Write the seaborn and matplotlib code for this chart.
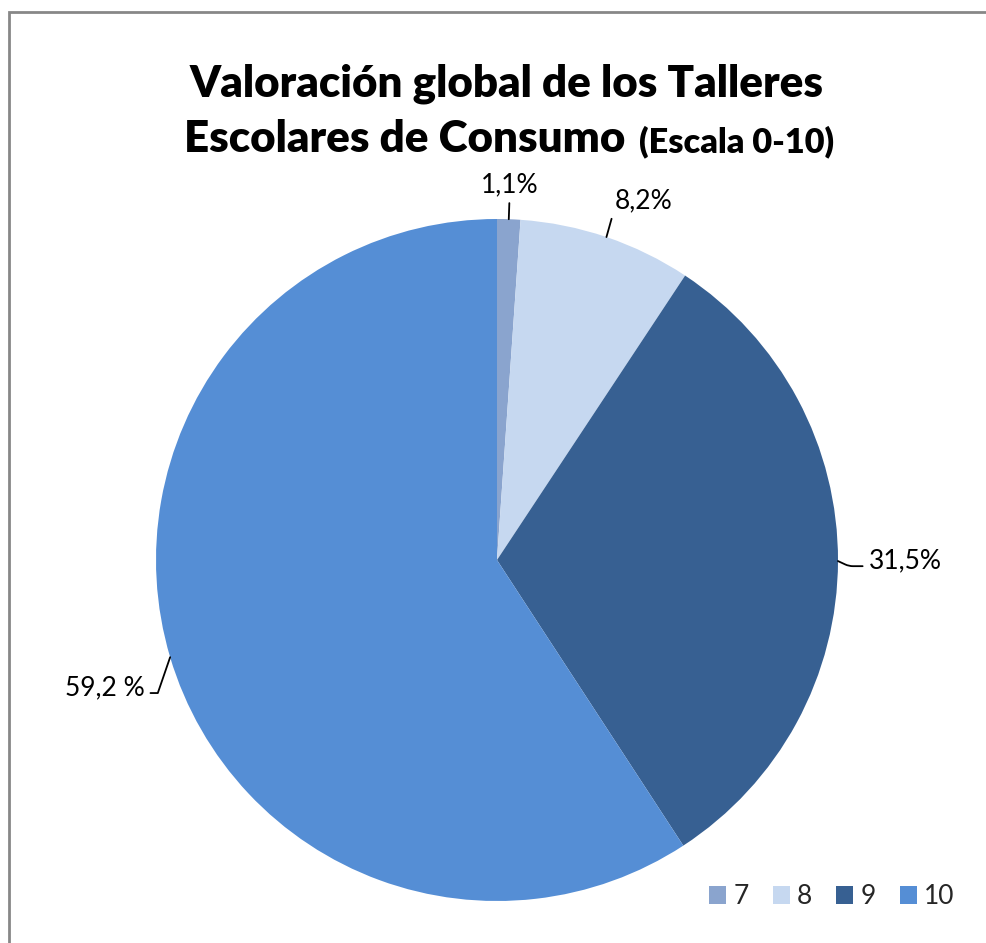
import numpy as np
import matplotlib
matplotlib.use("Agg")
import matplotlib.pyplot as plt
import seaborn as sns
from matplotlib.patches import Rectangle

# ====================================
# DATA
# ====================================
categories = ["7", "8", "9", "10"]
shares = [1.1, 8.2, 31.5, 59.2]
value_labels = ["1,1%", "8,2%", "31,5%", "59,2 %"]
slice_colors = ["#8aa4ce", "#c6d8f0", "#376092", "#558ed5"]

title_line1 = "Valoración global de los Talleres"
title_line2 = "Escolares de Consumo"
title_scale = "(Escala 0-10)"

# ====================================
# STYLE
# ====================================
sns.set_theme(style="white")
plt.rcParams["font.family"] = ["Lato", "DejaVu Sans"]

W, H = 987, 943
fig = plt.figure(figsize=(W / 100, H / 100), dpi=100)
fig.patch.set_facecolor("white")

# pie placement in pixels (centre and radius)
cx, cy, rad = 497, 560, 341
ax = fig.add_axes([(cx - rad) / W, 1 - (cy + rad) / H, 2 * rad / W, 2 * rad / H])

wedges, _ = ax.pie(
    shares,
    colors=slice_colors,
    startangle=90,
    counterclock=False,
    radius=1,
    wedgeprops=dict(linewidth=0),
)
ax.set_xlim(-1, 1)
ax.set_ylim(-1, 1)
ax.set_aspect("equal")
ax.axis("off")

# ====================================
# DATA LABELS WITH LEADER LINES
# ====================================
# (text radius, angle shift, ha, va, connection style, relpos)
label_layout = [
    (1.065, 0.0, "center", "bottom", "arc3", (0.5, 0.0)),
    (1.075, 0.0, "left", "bottom", "arc3", (0.0, 0.2)),
    (1.09, 0.0, "left", "center", "angle,angleA=0,angleB=-25,rad=4", (0.0, 0.3)),
    (1.10, 3.4, "right", "center", "angle,angleA=0,angleB=71,rad=0", (1.0, 0.3)),
]

label_size = 19
for w, txt, (tr, dth, ha, va, conn, rel) in zip(wedges, value_labels, label_layout):
    mid = np.deg2rad((w.theta1 + w.theta2) / 2)
    tpos = np.deg2rad(np.rad2deg(mid) + dth)
    ax.annotate(
        txt,
        xy=(np.cos(mid), np.sin(mid)),
        xytext=(tr * np.cos(tpos), tr * np.sin(tpos)),
        ha=ha,
        va=va,
        fontsize=label_size,
        color="black",
        annotation_clip=False,
        arrowprops=dict(
            arrowstyle="-",
            color="black",
            lw=1.3,
            shrinkA=2,
            shrinkB=0,
            connectionstyle=conn,
            relpos=rel,
        ),
    )

# ====================================
# TITLE
# ====================================
renderer = fig.canvas.get_renderer()


def fit_width(text_obj, target_px):
    # scale the font so the text covers the target width
    ext = text_obj.get_window_extent(renderer=renderer)
    text_obj.set_fontsize(text_obj.get_fontsize() * target_px / ext.width)


t1 = fig.text(507 / W, 1 - 96 / H, title_line1, ha="center", va="baseline",
              fontsize=30, fontweight="heavy", color="black")
fit_width(t1, 634)
big_size = t1.get_fontsize()

t2 = fig.text(0, 1 - 152 / H, title_line2, ha="left", va="baseline",
              fontsize=big_size, fontweight="heavy", color="black")
t3 = fig.text(0, 1 - 152 / H, title_scale, ha="left", va="baseline",
              fontsize=20, fontweight="heavy", color="black")
fit_width(t3, 195)

w2 = t2.get_window_extent(renderer=renderer).width
w3 = t3.get_window_extent(renderer=renderer).width
gap = 14
x_start = 509 - (w2 + gap + w3) / 2
t2.set_x(x_start / W)
t3.set_x((x_start + w2 + gap) / W)

# ====================================
# LEGEND
# ====================================
fig.legend(
    wedges,
    categories,
    loc="center",
    bbox_to_anchor=(832 / W, 1 - 897 / H),
    ncol=4,
    frameon=False,
    fontsize=label_size,
    handlelength=0.65,
    handleheight=0.65,
    handletextpad=0.28,
    columnspacing=0.9,
)

# outer chart border
fig.add_artist(Rectangle((9 / W, -0.05), 2, 1 - 12 / H + 0.05,
                         transform=fig.transFigure, fill=False,
                         edgecolor="#878787", lw=2))

fig.savefig("out.png", dpi=100)
